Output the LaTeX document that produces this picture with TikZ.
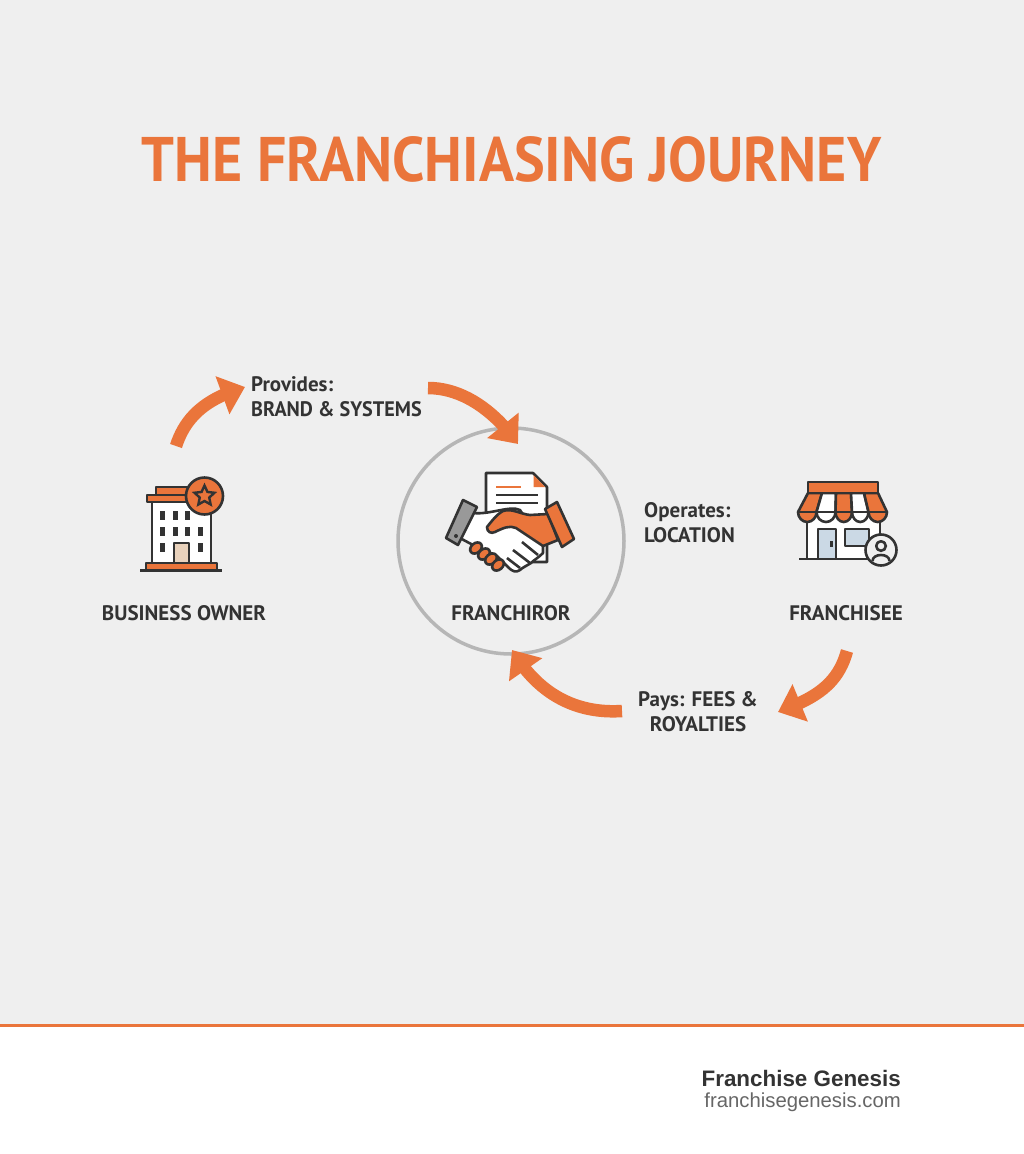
\documentclass[tikz,border=0pt]{standalone}
\usepackage{graphicx}
\usepackage{fontspec}
\setmainfont{PT Sans}
\newfontfamily\footfont{Liberation Sans}
\usetikzlibrary{arrows.meta,bending,shapes.geometric}
\definecolor{brandorange}{HTML}{EA753B}
\definecolor{inkdark}{HTML}{333333}
\definecolor{pagegray}{HTML}{EFEFEF}
\definecolor{ringgray}{HTML}{B6B6B6}
\definecolor{glassblue}{HTML}{CBD9E5}
\tikzset{
	flowarrow/.style={draw=brandorange,line width=12.5pt,-{Triangle[length=24pt,width=39pt,flex=1]}},
	iconline/.style={draw=inkdark,line width=2.6pt,line join=round},
	rolelabel/.style={font=\bfseries\fontsize{21}{25}\selectfont,text=inkdark,inner sep=0pt,anchor=base},
	flowlabel/.style={font=\bfseries\fontsize{21}{25}\selectfont,text=inkdark,inner sep=0pt,align=left,anchor=base west},
}
\begin{document}
\begin{tikzpicture}[x=1pt,y=-1pt]
	\useasboundingbox (0,0) rectangle (1024,1154);
	\fill [pagegray] (0,0) rectangle (1024,1026);
	\fill [white] (0,1026) rectangle (1024,1154);
	\draw [brandorange,line width=3pt] (0,1025.5) -- (1024,1025.5);

	\node (title) [anchor=base,inner sep=0pt,text=brandorange,font=\bfseries\fontsize{63}{70}\selectfont,xscale=.92,transform shape] at (511.5,181) {THE FRANCHIASING JOURNEY};

	% ring
	\node (ring) [circle,draw=ringgray,line width=3.5pt,minimum size=226pt,inner sep=0pt] at (511,541) {};

	% labels
	\node (owner) [rolelabel] at (184,620) {BUSINESS OWNER};
	\node (franchiror) [rolelabel] at (511,620) {FRANCHIROR};
	\node (franchisee) [rolelabel] at (846,620) {FRANCHISEE};
	\node (provides) [flowlabel] at (251,416) {Provides:\\\scalebox{.96}[1]{BRAND \& SYSTEMS}};
	\node (operates) [flowlabel] at (644,542) {Operates:\\LOCATION};
	\node (pays) [flowlabel,align=center,anchor=base] at (698,731) {Pays: FEES \&\\ROYALTIES};

	% arrows
	\coordinate (ownerOut) at (176,446);
	\coordinate (providesIn) at (245,387);
	\coordinate (providesOut) at (428,388);
	\coordinate (ringTop) at (518,444);
	\coordinate (paysOut) at (622,711);
	\coordinate (ringBottom) at (512,650);
	\coordinate (franchiseeOut) at (847,651);
	\coordinate (paysIn) at (778,712);
	\draw [flowarrow] (ownerOut) .. controls (186,415) and (208,398) .. (providesIn);
	\draw [flowarrow] (providesOut) .. controls (462,388) and (494,410) .. (ringTop);
	\draw [flowarrow] (paysOut) .. controls (576,714) and (538,694) .. (ringBottom);
	\draw [flowarrow] (franchiseeOut) .. controls (838,684) and (816,698) .. (paysIn);

	% building
	\draw [iconline,fill=brandorange] (156,487) rectangle (190,495);
	\draw [iconline,fill=brandorange] (147,495) rectangle (190,502);
	\draw [iconline,fill=white] (152,502) rectangle (211,563);
	\foreach \wx/\wy in {162.7/515,175/515,187.3/515,162.7/531,175/531,187.3/531,200/531,162.7/547,200/547}
		\fill [inkdark] (\wx-2.5,\wy-4.5) rectangle (\wx+2.5,\wy+4.5);
	\draw [iconline,fill=brown!35!white] (174,543) rectangle (189,563);
	\draw [iconline,fill=brandorange] (146,563) rectangle (217,570.5);
	\draw [iconline] (140,570.5) -- (222,570.5);
	\draw [iconline,fill=brandorange] (204.5,496) circle (18.5);
	\node (ownerStar) [star,star points=5,star point ratio=2.1,draw=inkdark,line width=2.4pt,minimum size=21pt,inner sep=0pt] at (204.5,496) {};

	% document and handshake
	\draw [iconline,fill=white] (486,473) -- (533,473) -- (547,487) -- (547,562) -- (486,562) -- cycle;
	\fill [brandorange] (533.5,475) -- (545,487) -- (533.5,487) -- cycle;
	\draw [brandorange,line width=2.2pt] (496,487) -- (521,487);
	\draw [inkdark,line width=2.2pt] (496,495) -- (538,495) (496,503) -- (538,503);
	\draw [iconline,fill=white] (473,513) .. controls (490,515) and (510,505) .. (520,510) -- (543,546) -- (543,553) .. controls (538,558) and (534,560) .. (531,563) .. controls (526,566) and (522,568) .. (520,570) .. controls (516,573) and (512,571) .. (509,568) -- (497,556) -- (473,545) -- (458,537) -- cycle;
	\draw [iconline,fill=black!40] (463,500) -- (477,507) -- (458,545) -- (446,538) -- cycle;
	\fill [inkdark] (456,536) circle (2);
	\draw [iconline,fill=brandorange] (548,514) -- (530,515) .. controls (520,514) and (512,508) .. (503,511) .. controls (497,514) and (491,522) .. (487,527) .. controls (487,532) and (491,534) .. (495,532) .. controls (503,528) and (510,525) .. (516,528) -- (543,546) -- (558,540) -- cycle;
	\draw [iconline,fill=brandorange] (545,509) -- (557,502) -- (574,539) -- (562,547) -- cycle;
	\foreach \fx/\fy in {476/548,484/554,491/559,498/565}
		\draw [iconline,fill=brandorange,rotate around={40:(\fx,\fy)}] (\fx,\fy) ellipse (6.5 and 4.8);
	\draw [iconline] (522,542) -- (538,555) (513,550) -- (530,563) (507,558) -- (520,568);

	% store
	\draw [iconline,fill=white] (807,512) rectangle (880,559);
	\draw [iconline,fill=glassblue] (818,529) rectangle (836,559);
	\fill [inkdark] (830,541) rectangle (832.5,547);
	\draw [iconline,fill=glassblue] (845,529) rectangle (869,546);
	\draw [iconline] (799,559) -- (866,559);
	\foreach \ax/\cx/\sx/\ex/\awncol in {808/822/798/816.5/brandorange,822/836/816.5/835.5/white,836/851/835.5/852/brandorange,851/864/852/868.5/white,864/878/868.5/887/brandorange}
		\draw [iconline,fill=\awncol] (\ax,493) -- (\cx,493) -- (\ex,512) arc (0:180:{(\ex-\sx)/2} and 10) -- cycle;
	\draw [iconline] (798,512) -- (887,512);
	\draw [iconline,fill=brandorange] (808,482) rectangle (878,493);
	\draw [iconline,fill=pagegray] (881,550) circle (15.5);
	\draw [iconline] (881,546) circle (4.8);
	\draw [iconline] (872.5,561) .. controls (872.5,553) and (889.5,553) .. (889.5,561);

	% footer
	\node (brand) [anchor=base east,inner sep=0pt,text=inkdark,font=\footfont\bfseries\fontsize{22.4}{26}\selectfont] at (901,1086) {Franchise Genesis};
	\node (site) [anchor=base east,inner sep=0pt,text=black!60,font=\footfont\fontsize{20.3}{24}\selectfont] at (901,1107) {franchisegenesis.com};
\end{tikzpicture}
\end{document}
